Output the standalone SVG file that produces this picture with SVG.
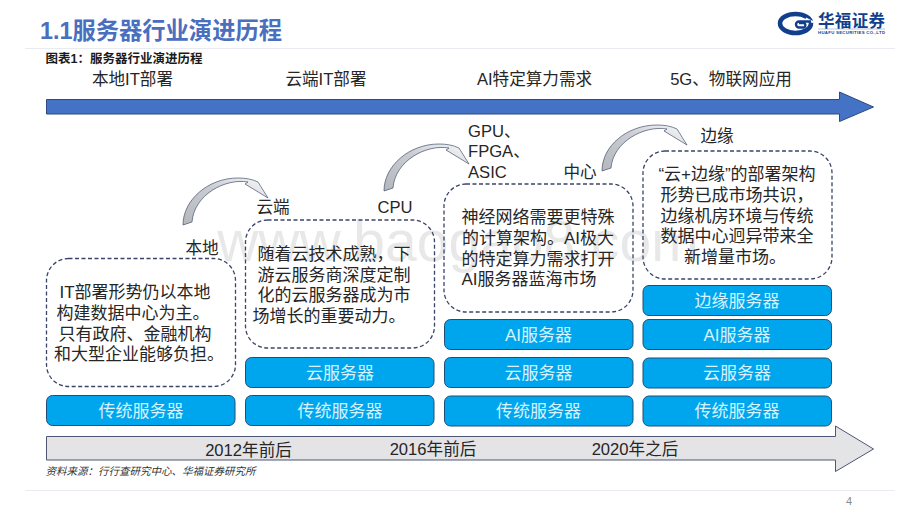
<svg xmlns="http://www.w3.org/2000/svg" width="920" height="518" viewBox="0 0 920 518">
<defs>
<linearGradient id="curveFill" x1="0" y1="1" x2="1" y2="0"><stop offset="0" stop-color="#b4b7bc"/><stop offset=".55" stop-color="#c9ccd1"/><stop offset="1" stop-color="#fafafa"/></linearGradient>
</defs>
<style>
text{font-family:"Liberation Sans","Noto Sans CJK SC",sans-serif}
.t{font-size:16.600px;fill:#262626}
.b{font-size:16.600px;fill:#262626;text-anchor:middle}
.n{font-size:17px;fill:#262626;text-anchor:middle}
.s{font-size:17px;fill:#d8f3ff;text-anchor:middle}
.srv{fill:#00a6ed;stroke:#1f4e79;stroke-width:1}
.note{fill:none;stroke:#3a4468;stroke-width:1.3;stroke-dasharray:4 2.500}
.curve{fill:url(#curveFill);stroke:#44506e;stroke-width:.7}
.rule{stroke:#e8ecf2;stroke-width:1}
</style>
<rect width="920" height="518" fill="#fff"/>
<text id="watermark" x="458" y="261" font-size="57" fill="#e8e8e8" text-anchor="middle">www.baogao8.com</text>
<g id="header">
<text x="40" y="39" font-size="23.300" font-weight="700" fill="#4a6fbf">1.1服务器行业演进历程</text>
<line class="rule" x1="25" y1="48.500" x2="895" y2="48.500"/>
<text x="45.500" y="63" font-size="12.500" font-weight="700" fill="#1a1a1a">图表1：服务器行业演进历程</text>
</g>
<g id="logo">
<ellipse cx="795.500" cy="23.500" rx="15.500" ry="9.500" fill="none" stroke="#123f8c" stroke-width="4.500"/>
<path d="M806 17.500L813 21V23L805 21Z" fill="#fff"/>
<path d="M811 21.500H799A3 3 0 0 0 799 27.500H804A2.500 2.500 0 0 0 804 23H799" fill="none" stroke="#123f8c" stroke-width="2.400"/>
<text x="818" y="26.500" font-size="16.500" font-weight="700" fill="#123f8c" textLength="67" style="font-family:'Noto Sans CJK SC',sans-serif">华福证券</text>
<line x1="818" y1="29" x2="885" y2="29" stroke="#8da3c8" stroke-width=".6"/>
<text x="818" y="34" font-size="4.300" font-weight="700" fill="#123f8c" textLength="67">HUAFU SECURITIES CO.,LTD</text>
</g>
<g id="top-arrow"><path d="M46.500 99.500H839.500V92L873.500 107L839.500 121.500V114H46.500Z" fill="#4472c4" stroke="#2f4a80" stroke-width="1"/></g>
<g id="phase-labels">
<text class="b" x="132.500" y="84.500">本地IT部署</text>
<text class="b" x="326" y="84.500">云端IT部署</text>
<text class="b" x="534.500" y="84.500">AI特定算力需求</text>
<text class="b" x="731" y="84.500">5G、物联网应用</text>
</g>
<g id="connectors">
<path class="curve" d="M183 225C183 200 208 178 238 178C245 178 252 179 258 182L268 198L245 184L248 182C225 178 194 195 192 222Z"/>
<path class="curve" d="M384 191C384 166 409 144 439 144C446 144 453 145 459 148L469 164L446 150L449 148C426 144 395 161 393 188Z"/>
<path class="curve" d="M602 171C602 146 627 125 657 125C664 125 671 126 677 129L687 145L664 131L667 129C644 125 613 142 611 168Z"/>
</g>
<g id="stage-labels">
<text class="b" x="273" y="213">云端</text>
<text class="b" x="395" y="213">CPU</text>
<text class="b" x="202" y="254">本地</text>
<text class="t" x="468" y="136.500">GPU、</text>
<text class="t" x="468" y="157">FPGA、</text>
<text class="t" x="468" y="178">ASIC</text>
<text class="b" x="580" y="178">中心</text>
<text class="b" x="717" y="142">边缘</text>
</g>
<g id="note-local"><rect class="note" x="46.500" y="258.500" width="189" height="128" rx="22"/>
<text class="n" x="135" y="298">IT部署形势仍以本地</text>
<text class="n" x="133" y="319">构建数据中心为主。</text>
<text class="n" x="135" y="339.500">只有政府、金融机构</text>
<text class="n" x="139" y="360">和大型企业能够负担。</text></g>
<g id="note-cloud"><rect class="note" x="245.500" y="220" width="189" height="128" rx="22"/>
<text class="n" x="334" y="260">随着云技术成熟，下</text>
<text class="n" x="334" y="280.500">游云服务商深度定制</text>
<text class="n" x="334" y="301">化的云服务器成为市</text>
<text class="n" x="329" y="321.500">场增长的重要动力。</text></g>
<g id="note-ai"><rect class="note" x="444" y="184" width="189" height="128" rx="22"/>
<text class="n" x="538" y="223">神经网络需要更特殊</text>
<text class="n" x="538" y="244">的计算架构。AI极大</text>
<text class="n" x="538" y="264.500">的特定算力需求打开</text>
<text class="n" x="529" y="285">AI服务器蓝海市场</text></g>
<g id="note-edge"><rect class="note" x="643" y="151" width="189" height="128" rx="22"/>
<text class="n" x="737" y="180">“云+边缘”的部署架构</text>
<text class="n" x="737" y="201">形势已成市场共识，</text>
<text class="n" x="737" y="222">边缘机房环境与传统</text>
<text class="n" x="737" y="242">数据中心迥异带来全</text>
<text class="n" x="735" y="263">新增量市场。</text></g>
<g id="srv-trad-1"><rect class="srv" x="46.500" y="395.500" width="188.500" height="30" rx="6"/><text class="s" x="141" y="417">传统服务器</text></g>
<g id="srv-trad-2"><rect class="srv" x="245.500" y="395.500" width="188.500" height="30" rx="6"/><text class="s" x="340" y="417">传统服务器</text></g>
<g id="srv-trad-3"><rect class="srv" x="444.500" y="396" width="188.500" height="30" rx="6"/><text class="s" x="538.500" y="417">传统服务器</text></g>
<g id="srv-trad-4"><rect class="srv" x="643" y="396" width="188.500" height="30" rx="6"/><text class="s" x="737" y="417">传统服务器</text></g>
<g id="srv-cloud-2"><rect class="srv" x="245.500" y="357.500" width="188.500" height="30" rx="6"/><text class="s" x="340" y="378.500">云服务器</text></g>
<g id="srv-cloud-3"><rect class="srv" x="444.500" y="357.500" width="188.500" height="30" rx="6"/><text class="s" x="538.500" y="378.500">云服务器</text></g>
<g id="srv-cloud-4"><rect class="srv" x="643" y="358" width="188.500" height="30" rx="6"/><text class="s" x="737" y="379">云服务器</text></g>
<g id="srv-ai-3"><rect class="srv" x="444.500" y="319.500" width="188.500" height="30" rx="6"/><text class="s" x="538.500" y="341">AI服务器</text></g>
<g id="srv-ai-4"><rect class="srv" x="643" y="319.500" width="188.500" height="30" rx="6"/><text class="s" x="737" y="341">AI服务器</text></g>
<g id="srv-edge-4"><rect class="srv" x="643" y="285.500" width="188.500" height="30" rx="6"/><text class="s" x="737" y="307">边缘服务器</text></g>
<g id="time-arrow"><path d="M46.500 436.500H835.500V426L873.500 449L835.500 471.500V460H46.500Z" fill="#e4e4e6" stroke="#4d5775" stroke-width="1"/>
<text class="b" x="248.500" y="455.500">2012年前后</text>
<text class="b" x="433" y="454.500">2016年前后</text>
<text class="b" x="635" y="455">2020年之后</text></g>
<text x="45.500" y="475" font-size="10.500" font-style="italic" fill="#333">资料来源：行行查研究中心、华福证券研究所</text>
<line class="rule" x1="25" y1="490.500" x2="895" y2="490.500"/>
<text x="846" y="505" font-size="11" fill="#8a8a8a">4</text>
</svg>
